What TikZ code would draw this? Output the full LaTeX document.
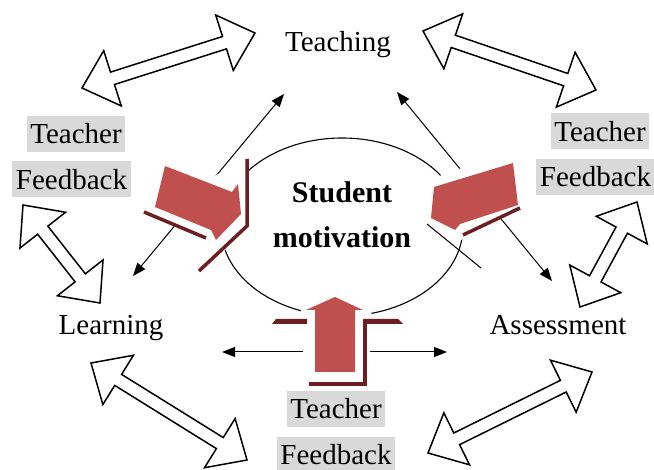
\documentclass[tikz,border=0pt]{standalone}
\usepackage{fontspec}
\setmainfont{Liberation Serif}
\usetikzlibrary{arrows.meta,calc}

\definecolor{arrowred}{HTML}{C0504D}
\definecolor{edgered}{HTML}{6B1F22}
\definecolor{fbgray}{HTML}{D9D9D9}

\tikzset{
    hollow/.style={draw=black,fill=white,line width=1.5pt,line join=miter},
    thinarr/.style={line width=1pt,{Triangle[length=13pt,width=10pt]}-{Triangle[length=13pt,width=10pt]}},
    fbbox/.style={fill=fbgray,inner xsep=3.5pt,inner ysep=4pt,text height=24pt,text depth=4pt},
    darkedge/.style={draw=edgered,line width=3.5pt},
    plate/.style={fill=white},
    redarrow/.style={fill=arrowred}
}

\newcommand{\hollowarrow}[2]{%
    \draw[hollow] (#1)
        -- ($(#1)!32pt!(#2)!29pt!90:(#2)$)
        -- ($(#1)!32pt!(#2)!6.5pt!90:(#2)$)
        -- ($(#2)!32pt!(#1)!6.5pt!-90:(#1)$)
        -- ($(#2)!32pt!(#1)!29pt!-90:(#1)$)
        -- (#2)
        -- ($(#2)!32pt!(#1)!29pt!90:(#1)$)
        -- ($(#2)!32pt!(#1)!6.5pt!90:(#1)$)
        -- ($(#1)!32pt!(#2)!6.5pt!-90:(#2)$)
        -- ($(#1)!32pt!(#2)!29pt!-90:(#2)$)
        -- cycle;}

\begin{document}
\begin{tikzpicture}[x=1pt,y=-1pt,every node/.style={font=\fontsize{29}{34}\selectfont}]
        \useasboundingbox (0,0) rectangle (654,470);

        \node[anchor=base] (teach) at (338,52) {Teaching};
        \node[anchor=base] (learn) at (111,335) {Learning};
        \node[anchor=base] (assess) at (558,335) {Assessment};

        \node[fbbox] (fbl1) at (76,134) {Teacher};
        \node[fbbox] (fbl2) at (71.5,179.5) {Feedback};
        \node[fbbox] (fbr1) at (600,131.5) {Teacher};
        \node[fbbox] (fbr2) at (595.5,177) {Feedback};
        \node[fbbox] (fbb1) at (336,409) {Teacher};
        \node[fbbox] (fbb2) at (336,455) {Feedback};

        \coordinate (tlA) at (82,88);   \coordinate (tlB) at (255,33);
        \coordinate (trA) at (423,31);  \coordinate (trB) at (596,90);
        \coordinate (lA) at (23,205);   \coordinate (lB) at (100,303);
        \coordinate (rA) at (637,202);  \coordinate (rB) at (580,307);
        \coordinate (blA) at (91,363);  \coordinate (blB) at (247,460);
        \coordinate (brA) at (428,453); \coordinate (brB) at (592,372);

        \hollowarrow{tlA}{tlB}
        \hollowarrow{trA}{trB}
        \hollowarrow{lA}{lB}
        \hollowarrow{rA}{rB}
        \hollowarrow{blA}{blB}
        \hollowarrow{brA}{brB}

        \draw[line width=1.1pt] (342,227) ellipse [x radius=121pt, y radius=89pt];

        \coordinate (teachL) at (284,94);  \coordinate (learnT) at (133,276);
        \coordinate (teachR) at (397,92);  \coordinate (assessT) at (552,281);
        \coordinate (learnR) at (222,352); \coordinate (assessL) at (447,352);
        \draw[thinarr] (teachL) -- (learnT);
        \draw[thinarr] (teachR) -- (assessT);
        \draw[thinarr] (learnR) -- (assessL);

        \fill[plate] (160,157) -- (215,176) -- (248,156) -- (251,226) -- (199,274) -- (205,238) -- (143,213) -- cycle;
        \draw[darkedge] (247,159) -- (247,226) -- (199,271);
        \draw[darkedge] (144,212) -- (206,238);
        \fill[redarrow] (165,166) -- (232,192) -- (238,184) -- (241,214) -- (216,240) -- (211,230) -- (155,207) -- cycle;

        \fill[plate] (443,174) -- (513,152) -- (523,206) -- (466,236) -- (452,248) -- (426,224) -- (426,185) -- cycle;
        \draw[line width=1pt] (427,224) -- (481,268);
        \draw[darkedge] (463,235) -- (520,208);
        \fill[redarrow] (513,163) -- (434,187) -- (431,218) -- (455,230) -- (460,224) -- (518,205) -- cycle;

        \fill[plate] (300,291) -- (372,291) -- (369,389) -- (305,389) -- cycle;
        \fill[edgered] (272,324) -- (276,319) -- (307,319) -- (307,324) -- cycle;
        \fill[edgered] (364,319) -- (398,319) -- (403,324) -- (364,324) -- cycle;
        \draw[darkedge] (365,319) -- (365,384) -- (309,384);
        \fill[redarrow] (315,372) -- (315,310) -- (306,310) -- (335,297) -- (363,310) -- (355,310) -- (355,372) -- cycle;

        \node[font=\bfseries\fontsize{30}{45}\selectfont,align=center] (motiv) at (342,215) {Student\\motivation};
    \end{tikzpicture}
\end{document}
